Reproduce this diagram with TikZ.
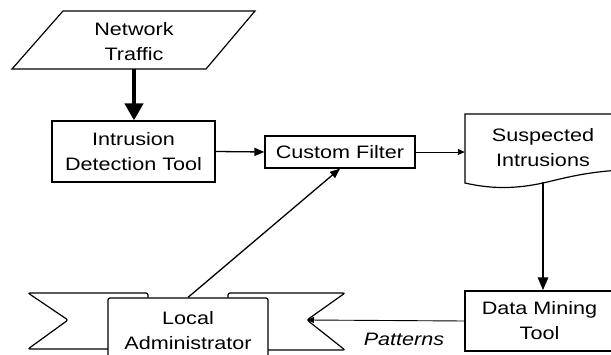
\documentclass[tikz,border=0pt]{standalone}
\usepackage{fontspec}
\newfontfamily\labfont[FakeStretch=1.2]{Liberation Sans}
\usetikzlibrary{arrows.meta}
\begin{document}
\begin{tikzpicture}[x=1pt,y=-1pt,
  every node/.style={font=\labfont\fontsize{18}{25}\selectfont, align=center, inner sep=0pt},
  shapeline/.style={draw=black, line width=1.2pt},
  stepbox/.style={shapeline, rectangle, fill=white},
  heavyflow/.style={draw, line width=4.5pt, -{Triangle[length=17pt,width=18pt]}},
  midflow/.style={draw, line width=2.8pt, -{Triangle[length=13pt,width=10pt]}},
  thinflow/.style={draw, line width=1.3pt, -{Triangle[length=10pt,width=8pt]}},
  hairflow/.style={draw, line width=0.9pt, -{Triangle[length=7pt,width=6pt]}}
]
\useasboundingbox (0,0) rectangle (611,355);
\clip (0,0) rectangle (611,355);

% input: network traffic (parallelogram)
\draw[shapeline] (63,11) -- (255,11) -- (206,69) -- (12,69) -- cycle;
\node[minimum height=54pt] (traffic) at (134,42) {Network\\Traffic};

% processing boxes
\node[stepbox, minimum width=163pt, minimum height=61pt] (ids) at (133.5,151.5) {Intrusion\\Detection Tool};
\node[stepbox, minimum width=150pt, minimum height=32pt] (filter) at (340,152) {Custom Filter};

% document shape: suspected intrusions
\draw[shapeline, fill=white] (465,114) -- (622,114) -- (622,170)
  .. controls (585,172) and (565,178) .. (543,183)
  .. controls (520,188) and (495,190) .. (465,183) -- cycle;
\node[minimum width=156pt, minimum height=68pt] (suspect) at (543,148) {Suspected\\Intrusions};

\node[stepbox, minimum width=149pt, minimum height=60pt] (mining) at (539.5,321) {Data Mining\\Tool};

% banner: local administrator
\draw[shapeline, rounded corners=2pt] (148,299) -- (148,293) -- (28,293) -- (68,320) -- (28,349) -- (110,349);
\draw[shapeline, rounded corners=2pt] (228,299) -- (228,293) -- (345,293) -- (307,320) -- (345,350) -- (266,350);
\node[stepbox, rounded corners=2pt, minimum width=160pt, minimum height=66pt] (admin) at (188,331) {Local\\Administrator};
\coordinate (notch) at (307,320);

% flows
\draw[heavyflow] (traffic.south) -- (traffic.south |- ids.north);
\draw[thinflow] (ids.east) -- (filter.west);
\draw[hairflow] (filter.east) -- (filter.east -| suspect.west);
\draw[midflow] (suspect.south) -- (suspect.south |- mining.north);
\draw[hairflow] (mining.west) -- (notch);
\node[font=\labfont\itshape\fontsize{18}{25}\selectfont] (patterns) at (404,339) {Patterns};
\draw[thinflow] (admin.north) -- (filter.south);
\end{tikzpicture}
\end{document}
